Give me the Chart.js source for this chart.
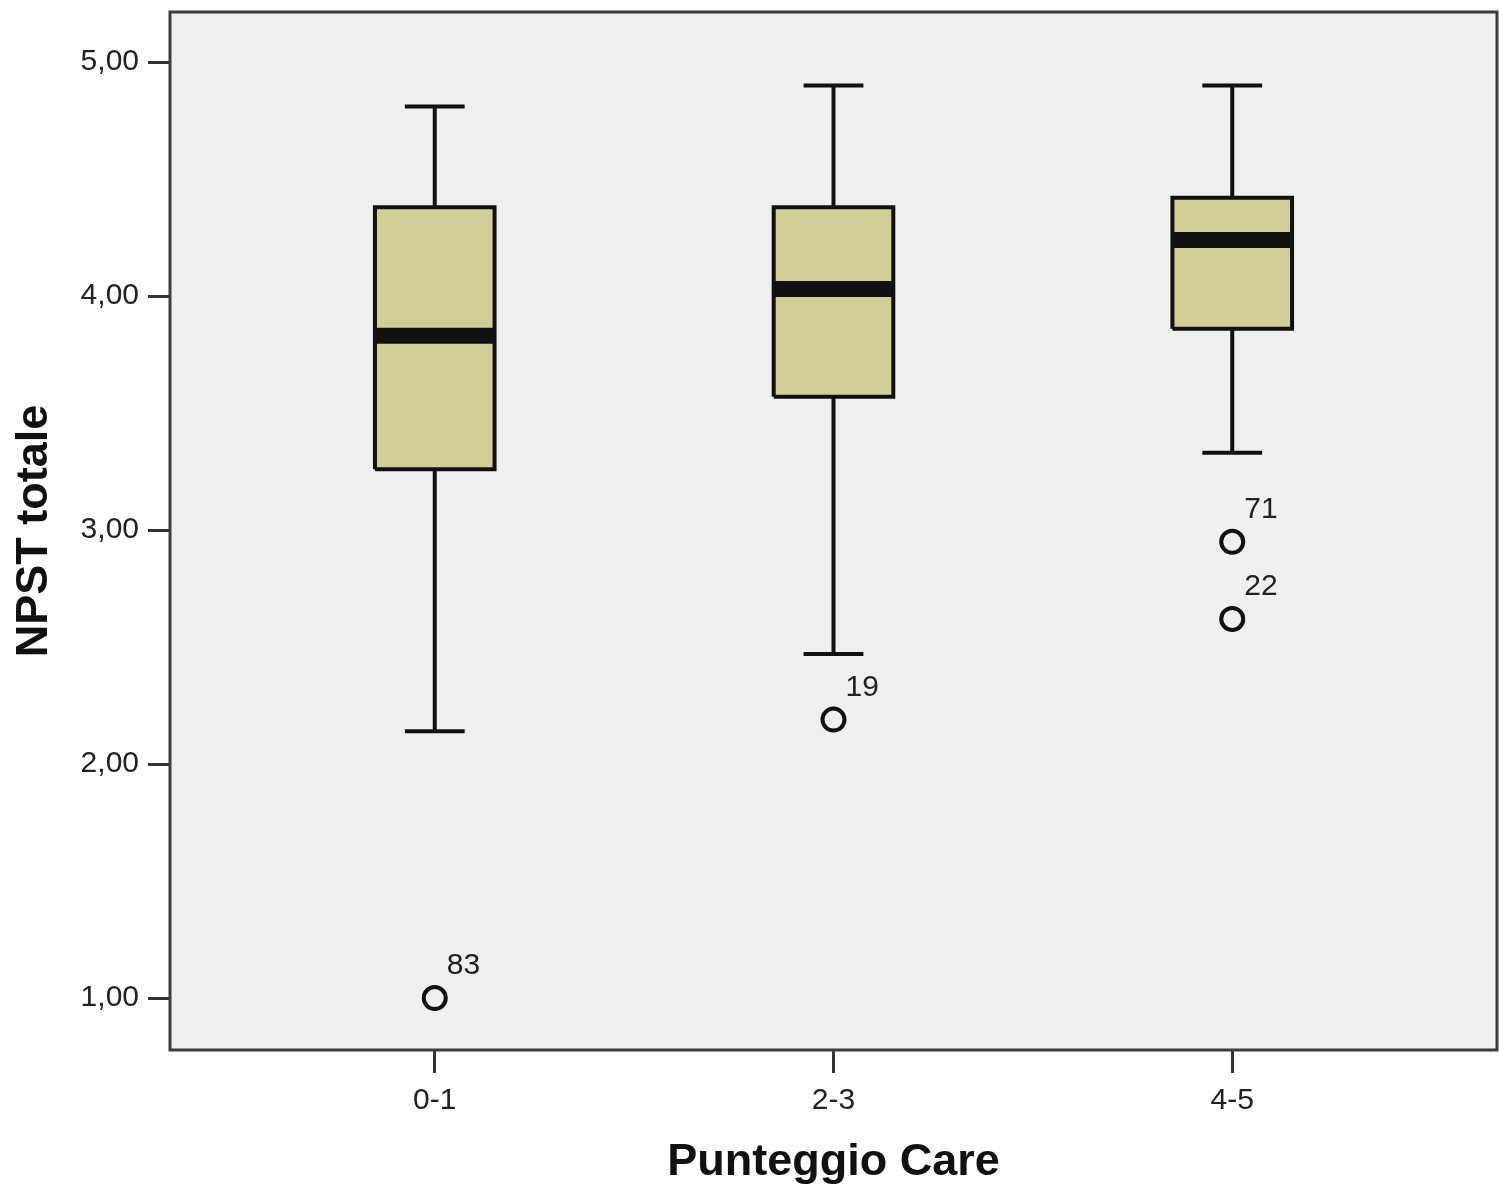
<!DOCTYPE html>
<html>
<head>
<meta charset="utf-8">
<script src="https://cdn.jsdelivr.net/npm/chart.js@4"></script>
<style>
  body { margin: 0; background: #ffffff; }
  #wrap { width: 1499px; height: 1197px; }
</style>
</head>
<body>
<div id="wrap"><canvas id="box-chart" width="1499" height="1197"></canvas></div>
<script>
// values
const categories = ['0-1', '2-3', '4-5'];
const whiskerLow = [2.14, 2.47, 3.33];
const q1 = [3.26, 3.57, 3.86];
const median = [3.83, 4.03, 4.24];
const q3 = [4.38, 4.38, 4.42];
const whiskerHigh = [4.81, 4.90, 4.90];

const outlierGroup = [0, 1, 2, 2];
const outlierValue = [1.00, 2.19, 2.95, 2.62];
const outlierLabel = ['83', '19', '71', '22'];

const yTicks = [1, 2, 3, 4, 5];
const yTickLabels = ['1,00', '2,00', '3,00', '4,00', '5,00'];

(function () {
    const boxHalf = 0.15;
    const capHalf = 0.075;
    const ink = '#111111';

    const datasets = [];

    // outliers (open circles)
    datasets.push({
        data: outlierGroup.map((g, i) => ({ x: g, y: outlierValue[i] })),
        showLine: false,
        pointStyle: 'circle',
        pointRadius: 11,
        pointBorderWidth: 4,
        pointBorderColor: ink,
        pointBackgroundColor: 'rgba(0,0,0,0)',
        order: 0
    });

    categories.forEach((cat, i) => {
        // median bar
        datasets.push({
            data: [{ x: i - boxHalf, y: median[i] }, { x: i + boxHalf, y: median[i] }],
            showLine: true,
            borderColor: ink,
            borderWidth: 16,
            borderCapStyle: 'butt',
            pointRadius: 0,
            order: 1
        });
        // box
        datasets.push({
            data: [
                { x: i - boxHalf, y: q1[i] },
                { x: i + boxHalf, y: q1[i] },
                { x: i + boxHalf, y: q3[i] },
                { x: i - boxHalf, y: q3[i] },
                { x: i - boxHalf, y: q1[i] }
            ],
            showLine: true,
            fill: 'shape',
            backgroundColor: '#d2ce98',
            borderColor: ink,
            borderWidth: 4,
            borderJoinStyle: 'miter',
            pointRadius: 0,
            order: 2
        });
        // whiskers
        datasets.push({
            data: [{ x: i, y: q3[i] }, { x: i, y: whiskerHigh[i] }],
            showLine: true, borderColor: ink, borderWidth: 4, pointRadius: 0, order: 3
        });
        datasets.push({
            data: [{ x: i - capHalf, y: whiskerHigh[i] }, { x: i + capHalf, y: whiskerHigh[i] }],
            showLine: true, borderColor: ink, borderWidth: 4, pointRadius: 0, order: 3
        });
        datasets.push({
            data: [{ x: i, y: q1[i] }, { x: i, y: whiskerLow[i] }],
            showLine: true, borderColor: ink, borderWidth: 4, pointRadius: 0, order: 3
        });
        datasets.push({
            data: [{ x: i - capHalf, y: whiskerLow[i] }, { x: i + capHalf, y: whiskerLow[i] }],
            showLine: true, borderColor: ink, borderWidth: 4, pointRadius: 0, order: 3
        });
    });

    const plotFrame = {
        id: 'plotFrame',
        beforeDraw(chart) {
            const { ctx, chartArea: a } = chart;
            ctx.save();
            ctx.fillStyle = '#efefef';
            ctx.fillRect(a.left, a.top, a.right - a.left, a.bottom - a.top);
            ctx.restore();
        },
        afterDraw(chart) {
            const { ctx, chartArea: a } = chart;
            ctx.save();
            ctx.strokeStyle = '#3c3c3c';
            ctx.lineWidth = 3;
            ctx.strokeRect(a.left, a.top, a.right - a.left, a.bottom - a.top);
            ctx.restore();
        }
    };

    const outlierTags = {
        id: 'outlierTags',
        afterDatasetsDraw(chart) {
            const { ctx, scales: { x, y } } = chart;
            ctx.save();
            ctx.font = '30px "Liberation Sans", Arial, sans-serif';
            ctx.fillStyle = '#222222';
            ctx.textAlign = 'left';
            ctx.textBaseline = 'middle';
            outlierLabel.forEach((label, i) => {
                const px = x.getPixelForValue(outlierGroup[i]);
                const py = y.getPixelForValue(outlierValue[i]);
                ctx.fillText(label, px + 12, py - 32);
            });
            ctx.restore();
        }
    };

    Chart.defaults.font.family = '"Liberation Sans", Arial, sans-serif';

    new Chart(document.getElementById('box-chart'), {
        type: 'scatter',
        data: { datasets },
        options: {
            responsive: false,
            animation: false,
            layout: { autoPadding: false, padding: { top: 12, right: 2, left: 0, bottom: 0 } },
            plugins: {
                legend: { display: false },
                tooltip: { enabled: false }
            },
            scales: {
                x: {
                    type: 'linear',
                    min: -0.664,
                    max: 2.664,
                    afterBuildTicks(scale) {
                        scale.ticks = categories.map((c, i) => ({ value: i }));
                    },
                    afterFit(scale) {
                        scale.height = 147;
                        scale.paddingLeft = 0;
                        scale.paddingRight = 0;
                    },
                    grid: {
                        drawOnChartArea: false,
                        tickLength: 23,
                        tickWidth: 3,
                        tickColor: '#333333'
                    },
                    border: { display: false },
                    ticks: {
                        padding: 10,
                        color: '#222222',
                        font: { size: 30 },
                        callback(value, index) {
                            return categories[index];
                        }
                    },
                    title: {
                        display: true,
                        text: 'Punteggio Care',
                        color: '#111111',
                        font: { size: 45, weight: 'bold' },
                        padding: { top: 4, bottom: 7 }
                    }
                },
                y: {
                    type: 'linear',
                    min: 0.778,
                    max: 5.214,
                    afterBuildTicks(scale) {
                        scale.ticks = yTicks.map(v => ({ value: v }));
                    },
                    afterFit(scale) {
                        scale.width = 170;
                        scale.paddingTop = 0;
                        scale.paddingBottom = 0;
                    },
                    grid: {
                        drawOnChartArea: false,
                        tickLength: 22,
                        tickWidth: 3,
                        tickColor: '#333333'
                    },
                    border: { display: false },
                    ticks: {
                        padding: 9,
                        color: '#222222',
                        font: { size: 30 },
                        callback(value, index) {
                            return yTickLabels[index];
                        }
                    },
                    title: {
                        display: true,
                        text: 'NPST totale',
                        color: '#111111',
                        font: { size: 45, weight: 'bold' },
                        padding: { top: 8, bottom: 4 }
                    }
                }
            }
        },
        plugins: [plotFrame, outlierTags]
    });
}());
</script>
</body>
</html>
